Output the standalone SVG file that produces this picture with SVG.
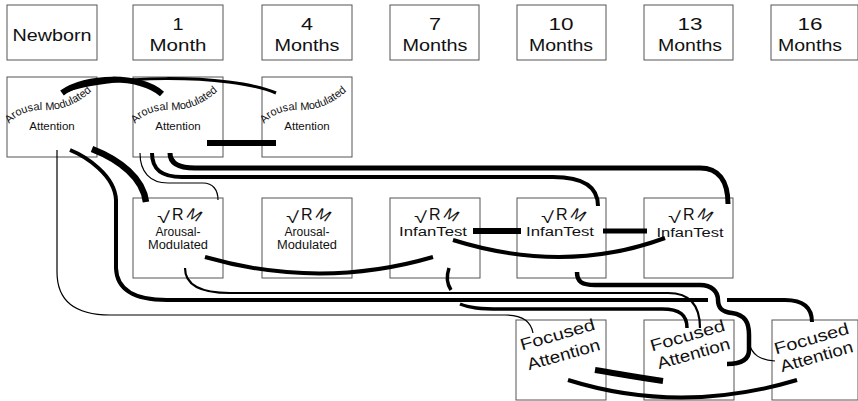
<svg xmlns="http://www.w3.org/2000/svg" width="858" height="401" viewBox="0 0 858 401">
<defs>
<style>
.box{fill:none;stroke:#555;stroke-width:1}
.t{font-family:"Liberation Sans",Arial,Helvetica,sans-serif;fill:#111;text-anchor:middle}
.h{font-size:16px}
.a{font-size:11.5px}
.ar{font-size:11px}
.v{font-size:12px}
.f{font-size:16.5px}
.lg{font-family:"Liberation Sans",Arial,Helvetica,sans-serif;fill:#111;font-size:16px}
.c{fill:none;stroke:#000}
</style>
<path id="arc0" d="M9,124 Q22,109 45,110 Q72,111 97,86"/>
<path id="arc1" d="M135,124 Q148,109 171,110 Q198,111 223,86"/>
<path id="arc2" d="M264,124 Q277,109 300,110 Q327,111 352,86"/>
</defs>
<rect width="858" height="401" fill="#fff"/>

<g id="h-newborn"><rect class="box" x="7" y="5" width="90" height="55"/><text class="t h" x="52" y="41" textLength="79" lengthAdjust="spacingAndGlyphs">Newborn</text></g>
<g id="h-1m"><rect class="box" x="133" y="5" width="90" height="55"/><text class="t h" x="178" y="30" textLength="11" lengthAdjust="spacingAndGlyphs">1</text><text class="t h" x="178" y="51" textLength="57" lengthAdjust="spacingAndGlyphs">Month</text></g>
<g id="h-4m"><rect class="box" x="262" y="5" width="90" height="55"/><text class="t h" x="307" y="30" textLength="12" lengthAdjust="spacingAndGlyphs">4</text><text class="t h" x="307" y="51" textLength="65" lengthAdjust="spacingAndGlyphs">Months</text></g>
<g id="h-7m"><rect class="box" x="390" y="5" width="89" height="55"/><text class="t h" x="435" y="30" textLength="12" lengthAdjust="spacingAndGlyphs">7</text><text class="t h" x="435" y="51" textLength="65" lengthAdjust="spacingAndGlyphs">Months</text></g>
<g id="h-10m"><rect class="box" x="517" y="5" width="89" height="55"/><text class="t h" x="561" y="30" textLength="25" lengthAdjust="spacingAndGlyphs">10</text><text class="t h" x="561" y="51" textLength="64" lengthAdjust="spacingAndGlyphs">Months</text></g>
<g id="h-13m"><rect class="box" x="644" y="5" width="89" height="55"/><text class="t h" x="690" y="30" textLength="25" lengthAdjust="spacingAndGlyphs">13</text><text class="t h" x="690" y="51" textLength="64" lengthAdjust="spacingAndGlyphs">Months</text></g>
<g id="h-16m"><rect class="box" x="771" y="5" width="87" height="55"/><text class="t h" x="810" y="30" textLength="25" lengthAdjust="spacingAndGlyphs">16</text><text class="t h" x="810" y="51" textLength="64" lengthAdjust="spacingAndGlyphs">Months</text></g>

<g id="ama-0"><rect class="box" x="7" y="77" width="90" height="80"/><text class="t ar" style="text-anchor:start"><textPath href="#arc0">Arousal Modulated</textPath></text><text class="t a" x="52" y="130">Attention</text></g>
<g id="ama-1"><rect class="box" x="133" y="77" width="90" height="80"/><text class="t ar" style="text-anchor:start"><textPath href="#arc1">Arousal Modulated</textPath></text><text class="t a" x="178" y="130">Attention</text></g>
<g id="ama-4"><rect class="box" x="262" y="77" width="90" height="80"/><text class="t ar" style="text-anchor:start"><textPath href="#arc2">Arousal Modulated</textPath></text><text class="t a" x="307" y="130">Attention</text></g>

<g id="vrm-1"><rect class="box" x="133" y="198" width="90" height="80"/><text class="lg" x="157" y="223" textLength="13" lengthAdjust="spacingAndGlyphs">√</text><text class="lg" x="172" y="220">R</text><text class="lg" x="186" y="217" font-style="italic" font-size="17" transform="rotate(24 186 217)">M</text><text class="t v" x="178" y="236" textLength="45" lengthAdjust="spacingAndGlyphs">Arousal-</text><text class="t v" x="178" y="249" textLength="60" lengthAdjust="spacingAndGlyphs">Modulated</text></g>
<g id="vrm-4"><rect class="box" x="262" y="198" width="90" height="80"/><text class="lg" x="286" y="223" textLength="13" lengthAdjust="spacingAndGlyphs">√</text><text class="lg" x="301" y="220">R</text><text class="lg" x="315" y="217" font-style="italic" font-size="17" transform="rotate(24 315 217)">M</text><text class="t v" x="307" y="236" textLength="45" lengthAdjust="spacingAndGlyphs">Arousal-</text><text class="t v" x="307" y="249" textLength="60" lengthAdjust="spacingAndGlyphs">Modulated</text></g>
<g id="vrm-7"><rect class="box" x="390" y="198" width="90" height="80"/><text class="lg" x="414" y="223" textLength="13" lengthAdjust="spacingAndGlyphs">√</text><text class="lg" x="429" y="220">R</text><text class="lg" x="443" y="217" font-style="italic" font-size="17" transform="rotate(24 443 217)">M</text><text class="t v" x="433" y="236" textLength="68" lengthAdjust="spacingAndGlyphs">InfanTest</text></g>
<g id="vrm-10"><rect class="box" x="517" y="198" width="89" height="80"/><text class="lg" x="541" y="223" textLength="13" lengthAdjust="spacingAndGlyphs">√</text><text class="lg" x="556" y="220">R</text><text class="lg" x="570" y="217" font-style="italic" font-size="17" transform="rotate(24 570 217)">M</text><text class="t v" x="560" y="236" textLength="68" lengthAdjust="spacingAndGlyphs">InfanTest</text></g>
<g id="vrm-13"><rect class="box" x="644" y="198" width="89" height="80"/><text class="lg" x="668" y="223" textLength="13" lengthAdjust="spacingAndGlyphs">√</text><text class="lg" x="683" y="220">R</text><text class="lg" x="697" y="217" font-style="italic" font-size="17" transform="rotate(24 697 217)">M</text><text class="t v" x="690" y="237" textLength="67" lengthAdjust="spacingAndGlyphs">InfanTest</text></g>

<g id="fa-10"><rect class="box" x="516" y="320" width="90" height="80"/><g transform="rotate(-16 559 340)"><text class="t f" x="559" y="340" textLength="77" lengthAdjust="spacingAndGlyphs">Focused</text></g><g transform="rotate(-16 565 360)"><text class="t f" x="565" y="360" textLength="75" lengthAdjust="spacingAndGlyphs">Attention</text></g></g>
<g id="fa-13"><rect class="box" x="644" y="320" width="90" height="80"/><g transform="rotate(-16 689 341)"><text class="t f" x="689" y="341" textLength="77" lengthAdjust="spacingAndGlyphs">Focused</text></g><g transform="rotate(-16 695 359)"><text class="t f" x="695" y="359" textLength="75" lengthAdjust="spacingAndGlyphs">Attention</text></g></g>
<g id="fa-16"><rect class="box" x="772" y="320" width="86" height="80"/><g transform="rotate(-16 813 344)"><text class="t f" x="813" y="344" textLength="77" lengthAdjust="spacingAndGlyphs">Focused</text></g><g transform="rotate(-16 818 362)"><text class="t f" x="818" y="362" textLength="75" lengthAdjust="spacingAndGlyphs">Attention</text></g></g>

<g id="connectors">
<path class="c" stroke-width="6" d="M62,93 C85,76 140,74 162,94"/>
<path class="c" stroke-width="3" d="M64,92 C100,75 230,73 276,93"/>
<path class="c" stroke-width="6" d="M207,143 H276"/>
<path class="c" stroke-width="1.2" d="M57,150 V272 Q57,315 110,315 H505 Q530,315 533,333"/>
<path class="c" stroke-width="4" d="M70,150 C85,156 115,175 116,200 V268 Q117,300 167,300 H708"/>
<path class="c" stroke-width="4" d="M727,300 H785 Q812,300 812,322"/>
<path class="c" stroke-width="6.5" d="M92,149 C120,160 143,178 146,202"/>
<path class="c" stroke-width="1.2" d="M140,153 C140,172 150,183 168,183 H203 C213,183 218,190 218,200"/>
<path class="c" stroke-width="4" d="M152,153 C152,170 162,177 182,177 H553 C580,177 598,185 598,206"/>
<path class="c" stroke-width="5" d="M170,153 C170,163 178,168 195,168 H700 C718,168 728,180 728,204"/>
<path class="c" stroke-width="4" d="M205,257 Q320,290 433,257"/>
<path class="c" stroke-width="4" d="M453,240 Q565,275 665,238"/>
<path class="c" stroke-width="6" d="M473,231 H521"/>
<path class="c" stroke-width="5" d="M603,231 H647"/>
<path class="c" stroke-width="2.2" d="M185,268 C185,285 200,293 230,293 H668 C690,293 700,305 700,328"/>
<path class="c" stroke-width="3.5" d="M449,268 C446,277 447,284 451,290"/>
<path class="c" stroke-width="3.5" d="M460,304 C470,308 480,309 500,309 H662 C680,309 687,315 687,328"/>
<path class="c" stroke-width="4.5" d="M577,272 C577,282 582,285 595,285 H700 C712,285 718,292 718,300 C718,308 722,312 732,313 C745,315 749,322 749,335 V350 C749,360 740,364 727,364"/>
<path class="c" stroke-width="1.2" d="M749,343 C752,355 760,360 775,361"/>
<path class="c" stroke-width="6" d="M595,370 C620,374 640,378 663,381"/>
<path class="c" stroke-width="4" d="M568,380 Q680,415 797,380"/>
</g>
</svg>
